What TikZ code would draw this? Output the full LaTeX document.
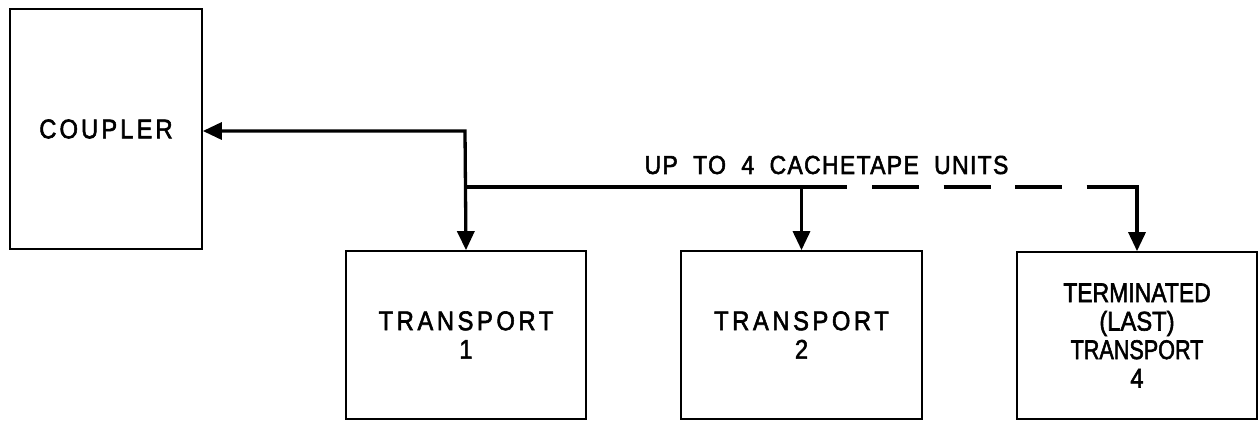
\documentclass[tikz,border=0pt]{standalone}
\usepackage{fontspec}
\setmainfont{Liberation Sans}
\usetikzlibrary{arrows.meta}
\newcommand{\cx}[2][0.88]{\scalebox{#1}[1]{\special{pdf:literal direct 2 Tr 0.6 w}#2\special{pdf:literal direct 0 Tr}}}
\begin{document}
\begin{tikzpicture}[x=1pt,y=-1pt,
  blk/.style={draw,line width=1.7pt,inner sep=0pt,align=center,font=\fontsize{27}{28.5}\selectfont},
  wire/.style={line width=3.3pt,line join=miter},
  arr/.style={wire,-{Triangle[length=19pt,width=17pt]}},
  darr/.style={wire,{Triangle[length=19pt,width=17pt]}-{Triangle[length=19pt,width=17pt]}},
  dsh/.style={wire,dash pattern=on 47pt off 24.5pt}]
\useasboundingbox (0,0) rectangle (1260,421);
\node[blk,minimum width=192pt,minimum height=240pt] (coupler) at (106,129)
  {\cx{\addfontfeature{LetterSpace=13}COUPLER}};
\node[blk,minimum width=240pt,minimum height=168pt] (t1) at (466,335)
  {\cx{\addfontfeature{LetterSpace=15}TRANSPORT}\\\cx{1}};
\node[blk,minimum width=241pt,minimum height=168pt] (t2) at (801.5,335)
  {\cx{\addfontfeature{LetterSpace=15}TRANSPORT}\\\cx{2}};
\node[blk,minimum width=240pt,minimum height=167pt] (t4) at (1137,335.5)
  {\cx[0.85]{TERMINATED}\\\cx{(LAST)}\\\cx[0.8]{TRANSPORT}\\\cx{4}};
\coordinate (j1) at (465,131);
\coordinate (b1) at (465,187);
\coordinate (s1) at (847,187);
\coordinate (d1) at (872,187);
\coordinate (d2) at (1087,187);
\coordinate (c4) at (1137,187);
\draw[darr] (j1 -| coupler.east) -- (j1) -- (t1.north);
\draw[wire] (b1) -- (s1);
\draw[arr] (t2.north |- b1) -- (t2.north);
\draw[dsh] (d1) -- (d2);
\draw[arr] (d2) -- (c4) -- (t4.north);
\node[font=\fontsize{26}{26}\selectfont,inner sep=0pt] (lbl) at (826.5,165)
  {\cx{\addfontfeature{LetterSpace=6}UP\ \ TO\ \ 4\ \ CACHETAPE\ \ UNITS}};
\end{tikzpicture}
\end{document}
